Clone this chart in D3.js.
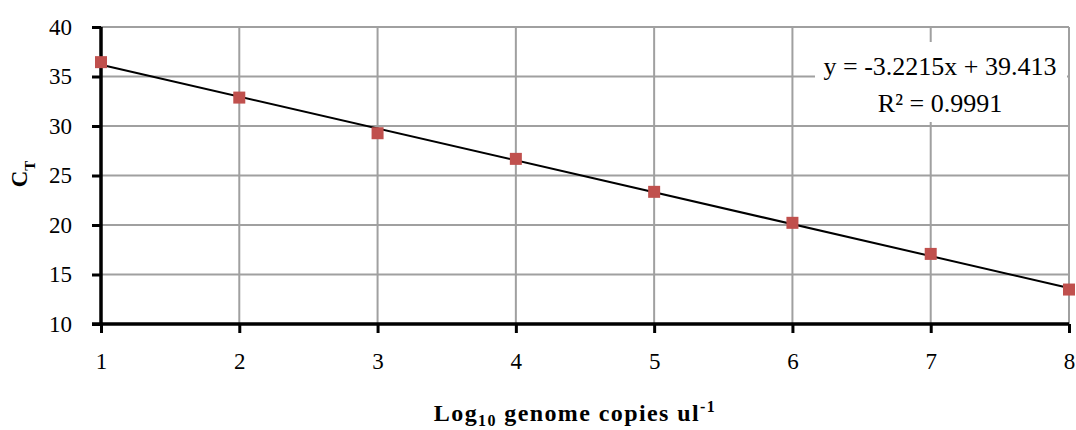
<!DOCTYPE html>
<html><head><meta charset="utf-8">
<script src="https://cdn.jsdelivr.net/npm/d3@7"></script>
<style>body{margin:0;background:#fff}svg{display:block}</style>
</head><body><svg id="c" width="1076" height="430"></svg>
<script>
const xValues = [1, 2, 3, 4, 5, 6, 7, 8];
const ctValues = [36.45, 32.87, 29.27, 26.68, 23.35, 20.22, 17.08, 13.48];
const xTicks = [1, 2, 3, 4, 5, 6, 7, 8];
const yTicks = [10, 15, 20, 25, 30, 35, 40];
const slope = -3.2215, intercept = 39.413;
const eqLabel = "y = -3.2215x + 39.413";
const r2Label = "R² = 0.9991";

const FONT = "'Liberation Serif', 'Times New Roman', serif";
const svg = d3.select("#c");
const m = {l: 101, r: 1069, t: 27, b: 324};
const x = d3.scaleLinear().domain([1, 8]).range([m.l, m.r]);
const y = d3.scaleLinear().domain([10, 40]).range([m.b, m.t]);

svg.append("g").selectAll("line").data(yTicks.filter(d => d > 10)).join("line")
  .attr("x1", m.l).attr("x2", m.r).attr("y1", d => y(d)).attr("y2", d => y(d))
  .attr("stroke", "#a0a0a0").attr("stroke-width", 2);
svg.append("g").selectAll("line").data(xTicks.filter(d => d > 1)).join("line")
  .attr("x1", d => x(d)).attr("x2", d => x(d)).attr("y1", m.t).attr("y2", m.b)
  .attr("stroke", "#a0a0a0").attr("stroke-width", 2);

const yAxis = svg.append("g").attr("transform", `translate(${m.l},0)`)
  .call(d3.axisLeft(y).tickValues(yTicks).tickSize(9).tickPadding(20).tickFormat(d3.format("d")));
const xAxis = svg.append("g").attr("transform", `translate(0,${m.b})`)
  .call(d3.axisBottom(x).tickValues(xTicks).tickSize(9).tickPadding(20).tickFormat(d3.format("d")));
[yAxis, xAxis].forEach(g => {
  g.attr("font-family", null).attr("font-size", null);
  g.select(".domain").attr("stroke", "#000").attr("stroke-width", 3.5);
  g.selectAll(".tick line").attr("stroke", "#000").attr("stroke-width", 3);
  g.selectAll("text").style("font-size", "23px").style("font-family", FONT).attr("fill", "#000");
});
yAxis.select(".domain").attr("d", `M0,${m.b + 2}V${m.t}`);
xAxis.select(".domain").attr("d", `M${m.l - 9},0H${m.r}`);

svg.append("rect").attr("x", 815).attr("y", 42).attr("width", 252).attr("height", 80).attr("fill", "#fff");
svg.append("text").attr("x", 940).attr("y", 75).attr("text-anchor", "middle")
  .style("font-family", FONT).style("font-size", "26px").text(eqLabel);
svg.append("text").attr("x", 940).attr("y", 112).attr("text-anchor", "middle")
  .style("font-family", FONT).style("font-size", "26px").text(r2Label);

svg.append("line")
  .attr("x1", x(1)).attr("y1", y(slope * 1 + intercept))
  .attr("x2", x(8)).attr("y2", y(slope * 8 + intercept))
  .attr("stroke", "#000").attr("stroke-width", 2);

const s = 12;
svg.append("g").selectAll("rect").data(xValues).join("rect")
  .attr("x", (d) => x(d) - s / 2).attr("y", (d, i) => y(ctValues[i]) - s / 2)
  .attr("width", s).attr("height", s).attr("fill", "#c0504d");

const yt = svg.append("text").attr("transform", "translate(27,174) rotate(-90)")
  .attr("text-anchor", "middle").style("font-family", FONT).style("font-weight", "bold").style("font-size", "23px");
yt.append("tspan").text("C");
yt.append("tspan").style("font-size", "15px").attr("dy", 8).text("T");

const xt = svg.append("text").attr("x", 575).attr("y", 421)
  .attr("text-anchor", "middle").style("font-family", FONT).style("font-weight", "bold")
  .style("font-size", "24px").style("letter-spacing", "1.4px");
xt.append("tspan").text("Log");
xt.append("tspan").style("font-size", "16px").attr("dy", 5).text("10");
xt.append("tspan").attr("dy", -5).text(" genome copies ul");
xt.append("tspan").style("font-size", "16px").attr("dy", -9).text("-1");
</script></body></html>
